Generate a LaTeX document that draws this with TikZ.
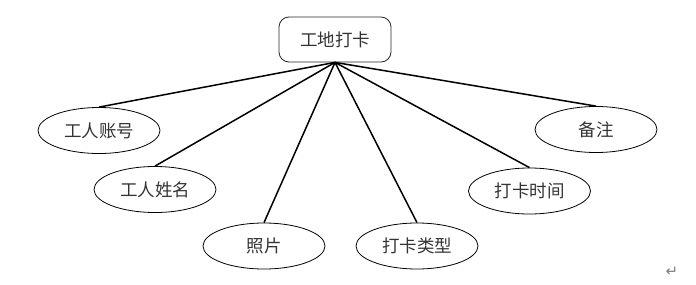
\documentclass[tikz,border=0pt]{standalone}
\usepackage{fontspec}
\newfontfamily\cjk{Noto Sans CJK SC}
\newfontfamily\dejavu{DejaVu Sans}
\usetikzlibrary{shapes.geometric}
\begin{document}
\begin{tikzpicture}[x=1pt,y=-1pt,
  attr/.style={ellipse,draw=black,line width=0.8pt,minimum width=122pt,minimum height=46pt,inner sep=0pt,font=\cjk\fontsize{17.5}{20}\selectfont,text=black!80},
  rootbox/.style={rectangle,rounded corners=10pt,draw=black!85,line width=0.8pt,minimum width=112pt,minimum height=45pt,inner sep=0pt,font=\cjk\fontsize{17.5}{20}\selectfont,text=black!80},
  link/.style={line width=1.5pt,black}]
\useasboundingbox (0,0) rectangle (696,284);
\node[rootbox] (root) at (335,39.5) {工地打卡};
\node[attr] (a1) at (99,130.5) {工人账号};
\node[attr] (a2) at (155,189.5) {工人姓名};
\node[attr] (a3) at (264,246) {照片};
\node[attr] (a4) at (417,246) {打卡类型};
\node[attr] (a5) at (529.5,191) {打卡时间};
\node[attr] (a6) at (596,129.5) {备注};
\foreach \n in {a1,a2,a3,a4,a5,a6}
  \draw[link] (root.south) -- (\n.north);
\node[font=\dejavu\fontsize{15}{17}\selectfont,text=black!50] (ret) at (672,272) {↵};
\end{tikzpicture}
\end{document}
